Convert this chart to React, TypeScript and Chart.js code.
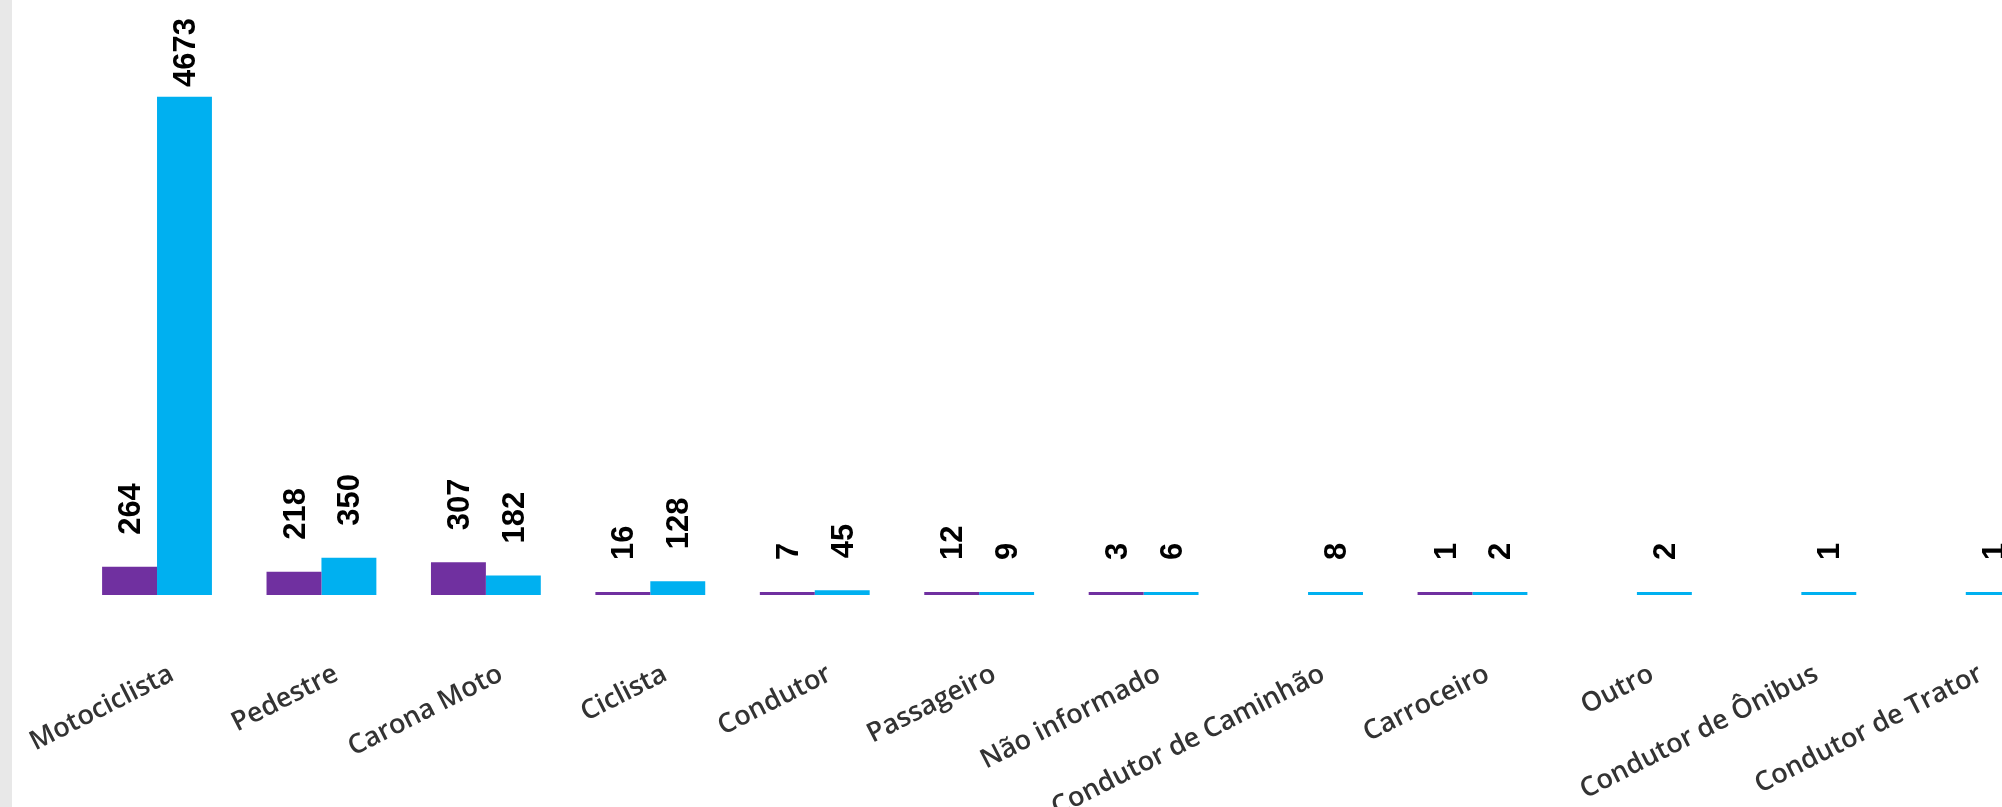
import React, { useEffect, useRef } from "react";
import { Chart, registerables } from "chart.js";

Chart.register(...registerables);

const categories: string[] = [
  "Motociclista",
  "Pedestre",
  "Carona Moto",
  "Ciclista",
  "Condutor",
  "Passageiro",
  "Não informado",
  "Condutor de Caminhão",
  "Carroceiro",
  "Outro",
  "Condutor de Ônibus",
  "Condutor de Trator",
];

const seriesPurple: (number | null)[] = [264, 218, 307, 16, 7, 12, 3, null, 1, null, null, null];
const seriesBlue: (number | null)[] = [4673, 350, 182, 128, 45, 9, 6, 8, 2, 2, 1, 1];

const yMax = 5000;

const CANVAS_W = 2060;
const CANVAS_H = 807;

const valueLabels = {
  id: "valueLabels",
  afterDatasetsDraw(chart: any) {
    const ctx = chart.ctx;
    ctx.save();
    ctx.font = "bold 31px 'Liberation Sans', Arial, sans-serif";
    ctx.fillStyle = "#000000";
    ctx.textAlign = "left";
    ctx.textBaseline = "middle";
    chart.data.datasets.forEach((ds: any, di: number) => {
      const meta = chart.getDatasetMeta(di);
      meta.data.forEach((bar: any, i: number) => {
        const v = ds.data[i];
        if (v === null || v === undefined) return;
        const text = String(v);
        const len = ctx.measureText(text).width;
        let yStart = bar.y - 32;
        const minTop = 18;
        if (yStart - len < minTop) yStart = minTop + len;
        ctx.save();
        ctx.translate(bar.x + 2, yStart);
        ctx.rotate(-Math.PI / 2);
        ctx.fillText(text, 0, 0);
        ctx.restore();
      });
    });
    ctx.restore();
  },
};

export default function App() {
  const ref = useRef<HTMLCanvasElement | null>(null);

  useEffect(() => {
    if (!ref.current) return;
    const chart = new Chart(ref.current, {
      type: "bar",
      data: {
        labels: categories,
        datasets: [
          {
            label: "A",
            data: seriesPurple,
            backgroundColor: "#7030A0",
            categoryPercentage: 0.668,
            barPercentage: 1.0,
            minBarLength: 3,
          },
          {
            label: "B",
            data: seriesBlue,
            backgroundColor: "#00B0F0",
            categoryPercentage: 0.668,
            barPercentage: 1.0,
            minBarLength: 3,
          },
        ],
      },
      options: {
        responsive: false,
        animation: false,
        devicePixelRatio: 1,
        layout: {
          padding: { left: 74.8, right: CANVAS_W - 2048, top: 62, bottom: 0 },
        },
        plugins: {
          legend: { display: false },
          title: { display: false },
          tooltip: { enabled: false },
        },
        scales: {
          x: {
            grid: { display: false, drawTicks: false },
            border: { display: false },
            ticks: {
              minRotation: 27,
              maxRotation: 27,
              autoSkip: false,
              padding: 63,
              labelOffset: 15,
              color: "#333333",
              font: { family: "'Open Sans', sans-serif", size: 27, weight: "600" },
            },
            afterFit: (scale: any) => {
              scale.height = CANVAS_H - 595;
              scale.paddingLeft = 0;
              scale.paddingRight = 0;
            },
          },
          y: {
            display: false,
            min: 0,
            max: yMax,
          },
        },
      },
      plugins: [valueLabels],
    });
    return () => chart.destroy();
  }, []);

  return (
    <div
      style={{
        position: "fixed",
        left: 0,
        top: 0,
        width: 2002,
        height: 807,
        overflow: "hidden",
        background: "#ffffff",
      }}
    >
      <canvas
        ref={ref}
        width={CANVAS_W}
        height={CANVAS_H}
        style={{ position: "absolute", left: 0, top: 0, width: CANVAS_W, height: CANVAS_H }}
      />
      <div
        style={{
          position: "absolute",
          left: 0,
          top: 0,
          width: 12,
          height: 807,
          background: "#e8e8e8",
        }}
      />
    </div>
  );
}
